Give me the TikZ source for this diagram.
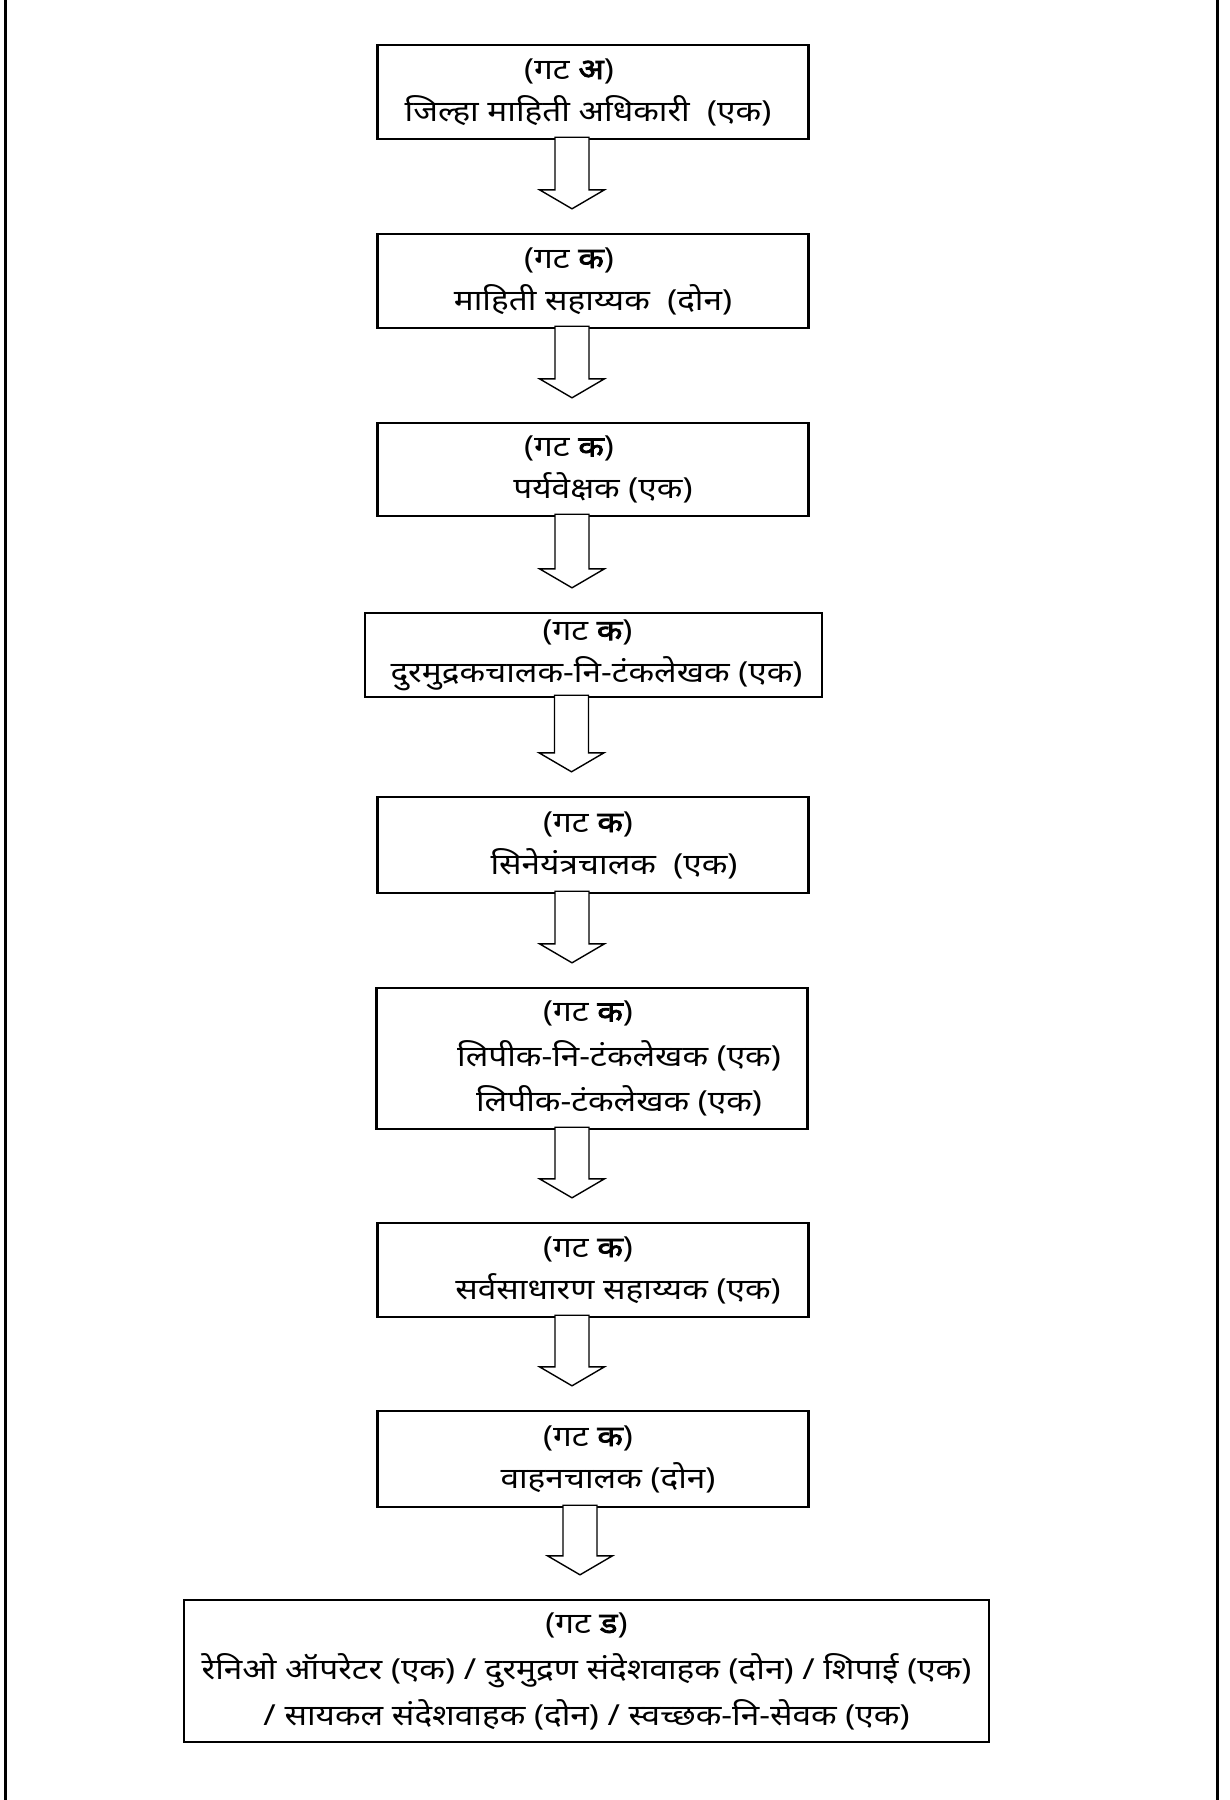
\documentclass[tikz,border=0pt]{standalone}
\usepackage{fontspec}
\setmainfont{Noto Sans}[Script=Devanagari, FakeStretch=1.15]
\newfontfamily\gatfont{Noto Sans}[Script=Devanagari, FakeStretch=1.15, FakeBold=2.5]
\newcommand{\gat}[1]{{\gatfont #1}}
\usetikzlibrary{calc}
\newcommand{\hollowArrow}[3]{
  \draw[arrowline] let \p1 = (#1.south), \p2 = (#2.north) in
    (\x1+#3-8.5pt, \y1+1.5pt) -- (\x1+#3-8.5pt, \y2+21.5pt) -- (\x1+#3-16.25pt, \y2+21.5pt)
    -- (\x1+#3, \y2+12pt) -- (\x1+#3+16.25pt, \y2+21.5pt) -- (\x1+#3+8.5pt, \y2+21.5pt)
    -- (\x1+#3+8.5pt, \y1+1.5pt) -- cycle;
}
\begin{document}
\begin{tikzpicture}[x=0.5pt, y=-0.5pt, thick]
  \tikzset{stagebox/.style = {draw, rectangle, line width=1.2pt, minimum width=215.5pt, minimum height=47pt, align=center, inner sep=0pt, font=\fontsize{14.5}{21}\selectfont}}
  \tikzset{arrowline/.style = {line width=0.7pt, fill=white}}
  \useasboundingbox (0,0) rectangle (1230,1800);
  \draw[line width=1.5pt] (5,0) -- (5,1800);
  \draw[line width=1.5pt] (1217,0) -- (1217,1800);

  \node[name = dio, stagebox] at (593,92) {\hspace*{-24pt}(गट \gat{अ})\\ \hspace*{-5pt}जिल्हा माहिती अधिकारी\ \ (एक)};
  \node[name = sahayak, stagebox] at (593,281) {\hspace*{-24pt}(गट \gat{क})\\ माहिती सहाय्यक\ \ (दोन)};
  \node[name = paryavekshak, stagebox, minimum height=46.5pt] at (593,469.5) {\hspace*{-24pt}(गट \gat{क})\\ \hspace*{10pt}पर्यवेक्षक (एक)};
  \node[name = durmudrak, stagebox, minimum width=228.5pt, minimum height=42pt] at (593.5,655) {\hspace*{-6pt}(गट \gat{क})\\ \hspace*{3pt}दुरमुद्रकचालक-नि-टंकलेखक (एक)};
  \node[name = sineyantra, stagebox, minimum height=48pt] at (593,845) {\hspace*{-5pt}(गट \gat{क})\\ \hspace*{21pt}सिनेयंत्रचालक\ \ (एक)};
  \node[name = lipik, stagebox, minimum height=70.5pt] at (592,1058.5) {\hspace*{-4pt}(गट \gat{क})\\[1.5pt] \hspace*{27pt}लिपीक-नि-टंकलेखक (एक)\\[1.5pt] \hspace*{27pt}लिपीक-टंकलेखक (एक)};
  \node[name = sarvasadharan, stagebox] at (593,1270) {\hspace*{-5pt}(गट \gat{क})\\ \hspace*{25pt}सर्वसाधारण सहाय्यक (एक)};
  \node[name = vahan, stagebox, minimum height=48pt] at (593,1459) {\hspace*{-5pt}(गट \gat{क})\\ \hspace*{15pt}वाहनचालक (दोन)};
  \node[name = gatD, stagebox, minimum width=402.5pt, minimum height=71pt] at (586.5,1671) {(गट \gat{ड})\\[2pt] रेनिओ ऑपरेटर (एक) / दुरमुद्रण संदेशवाहक (दोन) / शिपाई (एक)\\[2pt] / सायकल संदेशवाहक (दोन) / स्वच्छक-नि-सेवक (एक)};

  \hollowArrow{dio}{sahayak}{-10.5pt}
  \hollowArrow{sahayak}{paryavekshak}{-10.5pt}
  \hollowArrow{paryavekshak}{durmudrak}{-10.5pt}
  \hollowArrow{durmudrak}{sineyantra}{-11pt}
  \hollowArrow{sineyantra}{lipik}{-10.5pt}
  \hollowArrow{lipik}{sarvasadharan}{-10pt}
  \hollowArrow{sarvasadharan}{vahan}{-10.5pt}
  \hollowArrow{vahan}{gatD}{-6.5pt}
\end{tikzpicture}
\end{document}
